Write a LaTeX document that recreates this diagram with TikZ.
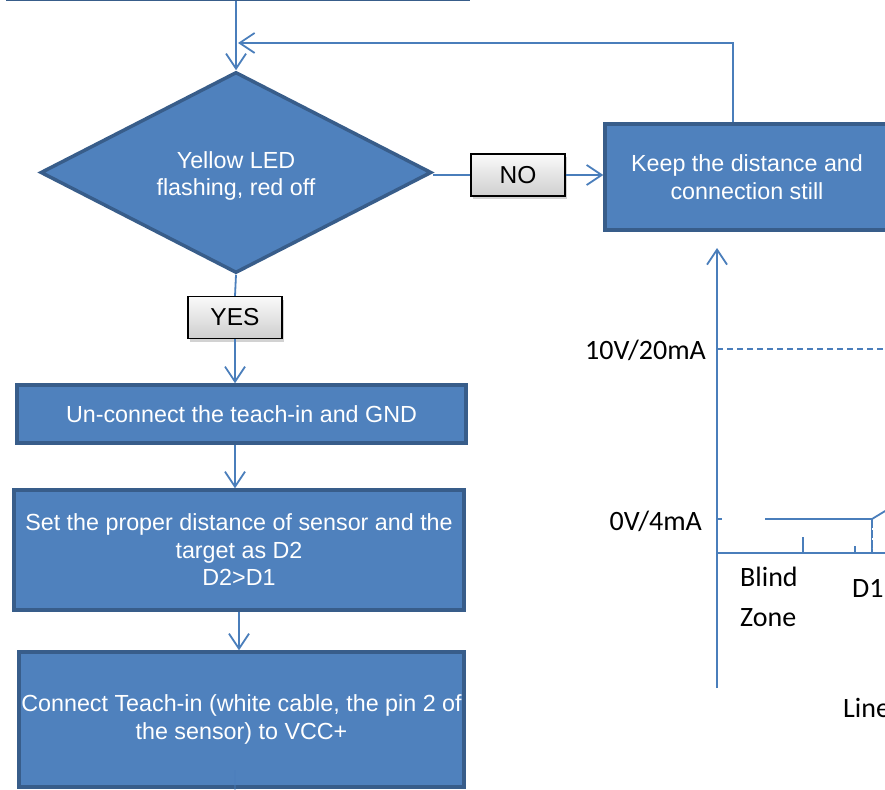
\documentclass[tikz,border=0pt]{standalone}
\usepackage{fontspec}
\setmainfont{Liberation Sans}
\newfontfamily\calibrifont{Carlito}
\usetikzlibrary{arrows.meta,shapes.geometric,shadows}
\definecolor{boxfill}{RGB}{79,129,189}
\definecolor{boxline}{RGB}{56,93,138}
\definecolor{conncol}{RGB}{74,126,187}
\begin{document}
\begin{tikzpicture}[x=1pt,y=-1pt,
  flowbox/.style={rectangle, draw=boxline, fill=boxfill, line width=3.5pt, text=white,
    font=\fontsize{23.3}{27.5}\selectfont, align=center, inner sep=0pt},
  decbox/.style={shape=diamond, shape aspect=2, draw=boxline, fill=boxfill, line width=3.5pt, text=white,
    font=\fontsize{23.3}{27.5}\selectfont, align=center, inner sep=0pt},
  tagbox/.style={rectangle, draw=black, line width=1.3pt, top color=gray!4, bottom color=gray!38,
    font=\fontsize{24.5}{28}\selectfont, text=black, minimum width=94pt, minimum height=42pt,
    inner sep=0pt, drop shadow={shadow xshift=2pt, shadow yshift=-3pt, opacity=.35}},
  link/.style={draw=conncol, line width=1.8pt},
  tipped/.style={-{Straight Barb[length=15pt,width=20pt]}},
  lab/.style={font=\calibrifont\fontsize{28}{34}\selectfont, inner sep=0pt, text=black}]
\path[use as bounding box, fill=white] (0,0) rectangle (885,789);
\clip (0,0) rectangle (885,789);

% flowchart nodes
\node[flowbox, minimum width=460pt, minimum height=58pt] (prev) at (238,-30) {};
\node[decbox, minimum width=391pt, minimum height=201pt] (dia) at (236,172.5) {\rule{0pt}{24pt}Yellow LED\\flashing, red off};
\node[tagbox] (no) at (518,175) {NO};
\node[flowbox, minimum width=284pt, minimum height=106pt] (keep) at (747,177) {Keep the distance and\\connection still};
\node[tagbox] (yes) at (235,317.5) {YES};
\node[flowbox, minimum width=449pt, minimum height=58pt] (unc) at (241.5,414) {Un-connect the teach-in and GND};
\node[flowbox, minimum width=450pt, minimum height=120pt] (set) at (239,550) {Set the proper distance of sensor and the\\target as D2\\D2>D1};
\node[flowbox, minimum width=445pt, minimum height=135pt] (con) at (241.5,719.5) {Connect Teach-in (white cable, the pin 2 of\\the sensor) to VCC+};

% connectors
\coordinate (fbc) at (733,43);
\coordinate (fbt) at (238,43);
\draw[link,tipped] (prev.south -| dia.north) -- (dia.north);
\draw[link,tipped] (keep.north -| fbc) -- (fbc) -- (fbt);
\draw[link] (dia.east |- no.west) -- (no.west);
\draw[link,tipped] (no.east) -- (no.east -| keep.west);
\draw[link] (dia.south) -- (yes.north);
\draw[link,tipped] (yes.south) -- (yes.south |- unc.north);
\draw[link,tipped] (unc.south -| yes.south) -- (set.north -| yes.south);
\draw[link,tipped] (set.south) -- (set.south |- con.north);
\coordinate (cin) at (235,770);
\coordinate (cout) at (235,800);
\draw[link,opacity=.4] (cin) -- (cout);

% chart
\coordinate (O) at (717,553);
\coordinate (ytop) at (717,248);
\coordinate (ybot) at (717,688);
\coordinate (xend) at (890,553);
\draw[link,tipped] (ybot) -- (ytop);
\draw[link] (O) -- (xend);
\draw[link] (717,349) -- (723,349);
\draw[link, dash pattern=on 6pt off 4pt] (727,349) -- (890,349);
\draw[link] (717,519) -- (722,519);
\draw[link] (765,519) -- (872,519) -- (895,505);
\draw[link] (803,537) -- (803,553);
\draw[link] (855,546) -- (855,553);
\draw[link] (872,519) -- (872,553);
\draw[white, line width=0.8pt, dash pattern=on 2pt off 8pt] (872,528) -- (872,548);

\node[lab, anchor=base east] (l10) at (706,359) {10V/20mA};
\node[lab, anchor=base east] (l0) at (702,530) {0V/4mA};
\node[lab, anchor=base west] (bl) at (740,586) {Blind};
\node[lab, anchor=base west] (zo) at (740,626) {Zone};
\node[lab, anchor=base west] (d1) at (852,597) {D1};
\node[lab, anchor=base west] (li) at (843,717) {Line};
\end{tikzpicture}
\end{document}
